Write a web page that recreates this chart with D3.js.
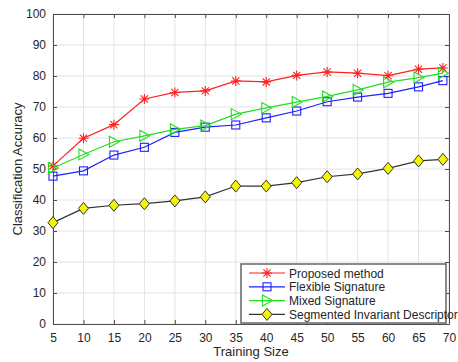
<!DOCTYPE html>
<html>
<head>
<meta charset="utf-8">
<script src="https://cdn.jsdelivr.net/npm/d3@7"></script>
<style>
  body { margin: 0; background: #fff; }
  text { font-family: "Liberation Sans", Arial, sans-serif; fill: #262626; }
</style>
</head>
<body>
<script>
const width = 458
const height = 362

const sizes = [5, 10, 15, 20, 25, 30, 35, 40, 45, 50, 55, 60, 65, 69]
const proposed = [51.0, 59.9, 64.3, 72.6, 74.7, 75.2, 78.4, 78.1, 80.2, 81.3, 80.9, 80.1, 82.2, 82.6]
const flexible = [47.7, 49.4, 54.5, 57.0, 61.8, 63.5, 64.2, 66.5, 68.7, 71.7, 73.2, 74.4, 76.5, 78.5]
const mixed = [50.3, 54.7, 58.8, 60.7, 62.8, 64.0, 67.7, 69.7, 71.6, 73.4, 75.5, 78.0, 79.5, 80.9]
const segmented = [32.7, 37.3, 38.3, 38.8, 39.7, 41.0, 44.5, 44.5, 45.6, 47.5, 48.4, 50.2, 52.6, 53.1]
const seriesNames = ["Proposed method", "Flexible Signature", "Mixed Signature", "Segmented Invariant Descriptor"]
const xTicks = [5, 10, 15, 20, 25, 30, 35, 40, 45, 50, 55, 60, 65, 70]
const yTicks = [0, 10, 20, 30, 40, 50, 60, 70, 80, 90, 100]

const margin = {top: 14, right: 9, bottom: 38, left: 53}

const svg = d3.select('body').append('svg')
    .attr('width', width)
    .attr('height', height)

const x = d3.scaleLinear().domain([5, 70]).range([margin.left, width - margin.right])
const y = d3.scaleLinear().domain([0, 100]).range([height - margin.bottom, margin.top])

// grid
svg.append('g').selectAll('line.gx')
    .data(xTicks).enter().append('line')
    .attr('x1', d => x(d)).attr('x2', d => x(d))
    .attr('y1', y(0)).attr('y2', y(100))
    .attr('stroke', '#e3e3e3').attr('stroke-width', 1)
svg.append('g').selectAll('line.gy')
    .data(yTicks).enter().append('line')
    .attr('x1', x(5)).attr('x2', x(70))
    .attr('y1', d => y(d)).attr('y2', d => y(d))
    .attr('stroke', '#e3e3e3').attr('stroke-width', 1)

// axes (ticks inside)
const axisColor = '#4d4d4d'
const styleAxis = g => {
    g.select('.domain').attr('stroke', axisColor)
    g.selectAll('.tick line').attr('stroke', axisColor)
    g.selectAll('.tick text').attr('fill', '#262626')
        .style('font-size', '12px').style('font-family', '"Liberation Sans", Arial, sans-serif')
}
svg.append('g').attr('transform', `translate(0,${y(0)})`)
    .call(d3.axisBottom(x).tickValues(xTicks).tickSizeInner(-4).tickSizeOuter(0).tickPadding(9))
    .call(styleAxis)
svg.append('g').attr('transform', `translate(0,${y(100)})`)
    .call(d3.axisTop(x).tickValues(xTicks).tickSizeInner(-4).tickSizeOuter(0).tickFormat(''))
    .call(styleAxis)
svg.append('g').attr('transform', `translate(${x(5)},0)`)
    .call(d3.axisLeft(y).tickValues(yTicks).tickSizeInner(-4).tickSizeOuter(0).tickPadding(7))
    .call(styleAxis)
svg.append('g').attr('transform', `translate(${x(70)},0)`)
    .call(d3.axisRight(y).tickValues(yTicks).tickSizeInner(-4).tickSizeOuter(0).tickFormat(''))
    .call(styleAxis)

// axis titles
svg.append('text')
    .attr('x', (x(5) + x(70)) / 2).attr('y', 356)
    .attr('text-anchor', 'middle')
    .style('font-size', '13px')
    .text('Training Size')
svg.append('text')
    .attr('transform', `translate(22,${(y(0) + y(100)) / 2}) rotate(-90)`)
    .attr('text-anchor', 'middle')
    .style('font-size', '13px')
    .text('Classification Accuracy')

const series = [
    {name: seriesNames[0], values: proposed, color: '#ff2020', marker: 'star'},
    {name: seriesNames[1], values: flexible, color: '#2020ff', marker: 'square'},
    {name: seriesNames[2], values: mixed, color: '#20e020', marker: 'triangle'},
    {name: seriesNames[3], values: segmented, color: '#333333', marker: 'diamond'}
]

const line = d3.line().x(d => x(d[0])).y(d => y(d[1]))

const drawMarker = (g, type, color) => {
    if (type === 'star') {
        g.append('path')
            .attr('d', 'M-5,0L5,0M0,-5L0,5M-3.6,-3.6L3.6,3.6M-3.6,3.6L3.6,-3.6')
            .attr('stroke', color).attr('stroke-width', 1.1).attr('fill', 'none')
    } else if (type === 'square') {
        g.append('rect').attr('x', -4).attr('y', -4).attr('width', 8).attr('height', 8)
            .attr('stroke', color).attr('stroke-width', 1.1).attr('fill', 'none')
    } else if (type === 'triangle') {
        g.append('path').attr('d', 'M-4.5,-5.5L5.5,0L-4.5,5.5Z')
            .attr('stroke', color).attr('stroke-width', 1.1).attr('fill', 'none')
    } else {
        g.append('path').attr('d', 'M0,-6L5,0L0,6L-5,0Z')
            .attr('stroke', '#333').attr('stroke-width', 1).attr('fill', '#f5f500')
    }
}

series.forEach(s => {
    const pts = sizes.map((d, i) => [d, s.values[i]])
    svg.append('path')
        .datum(pts)
        .attr('d', line)
        .attr('fill', 'none')
        .attr('stroke', s.color)
        .attr('stroke-width', 1.2)
    pts.forEach(p => {
        const g = svg.append('g').attr('transform', `translate(${x(p[0])},${y(p[1])})`)
        drawMarker(g, s.marker, s.color)
    })
})

// legend
const lg = svg.append('g').attr('transform', 'translate(241,264)')
lg.append('rect')
    .attr('x', 0).attr('y', 0).attr('width', 205).attr('height', 59)
    .attr('fill', '#fff').attr('stroke', '#6e6e6e').attr('stroke-width', 1.6)
series.forEach((s, i) => {
    const row = lg.append('g').attr('transform', `translate(0,${9 + i * 13.8})`)
    row.append('line').attr('x1', 8).attr('x2', 44).attr('y1', 0).attr('y2', 0)
        .attr('stroke', s.color).attr('stroke-width', 1.2)
    drawMarker(row.append('g').attr('transform', 'translate(26,0)'), s.marker, s.color)
    row.append('text').attr('x', 48).attr('y', 4.5)
        .style('font-size', '12px')
        .text(s.name)
})
</script>
</body>
</html>
